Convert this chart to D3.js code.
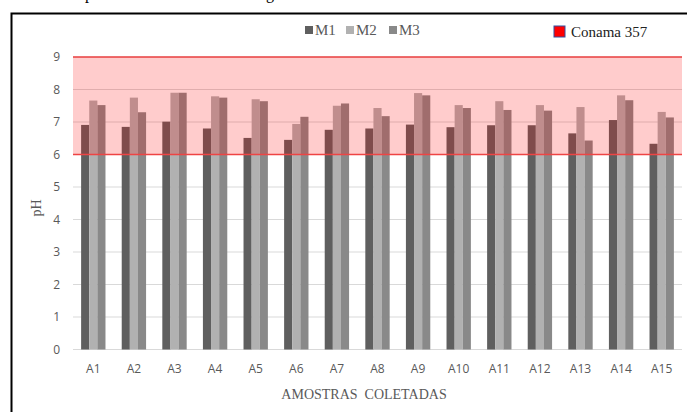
<!DOCTYPE html>
<html>
<head>
<meta charset="utf-8">
<script src="https://cdn.jsdelivr.net/npm/d3@7"></script>
<style>
  body { margin: 0; background: #fff; }
  svg { display: block; }
</style>
</head>
<body>
<svg id="chart"></svg>
<script>
// sample points and the three measurement campaigns
const categories = ["A1","A2","A3","A4","A5","A6","A7","A8","A9","A10","A11","A12","A13","A14","A15"];
const seriesNames = ["M1", "M2", "M3"];
const m1 = [6.91, 6.85, 7.01, 6.80, 6.51, 6.45, 6.76, 6.80, 6.92, 6.84, 6.90, 6.90, 6.65, 7.06, 6.33];
const m2 = [7.66, 7.75, 7.90, 7.79, 7.70, 6.94, 7.50, 7.43, 7.89, 7.52, 7.64, 7.52, 7.46, 7.82, 7.31];
const m3 = [7.52, 7.30, 7.90, 7.75, 7.64, 7.16, 7.57, 7.18, 7.82, 7.43, 7.37, 7.35, 6.43, 7.67, 7.14];
const yTicks = [0, 1, 2, 3, 4, 5, 6, 7, 8, 9];
// Conama 357 range for pH
const limitLow = 6;
const limitHigh = 9;

const W = 687, H = 412;
const plot = { left: 73, right: 682, top: 57, bottom: 349.5 };
const colors = { M1: "#5f5f5f", M2: "#b1b1b1", M3: "#898989" };

const svg = d3.select("#chart").attr("width", W).attr("height", H);

// clipped caption from the page above the figure (only descenders show)
svg.append("text").attr("x", 85).attr("y", -1)
  .attr("font-family", "Liberation Serif").attr("font-size", 16).text("p");
svg.append("text").attr("x", 266).attr("y", -1)
  .attr("font-family", "Liberation Serif").attr("font-size", 16).text("g");

// outer frame
svg.append("rect")
  .attr("x", 11.5).attr("y", 13.5)
  .attr("width", W).attr("height", H)
  .attr("fill", "none").attr("stroke", "#000").attr("stroke-width", 2);

const x = d3.scaleBand().domain(categories).range([plot.left, plot.right]);
const y = d3.scaleLinear().domain([0, 9]).range([plot.bottom, plot.top]);

const groupW = x.bandwidth() * 0.6;
const xs = d3.scaleBand().domain(seriesNames).range([0, groupW]);

// gridlines
svg.append("g").selectAll("line").data(yTicks).join("line")
  .attr("x1", plot.left).attr("x2", plot.right)
  .attr("y1", d => y(d)).attr("y2", d => y(d))
  .attr("stroke", "#d9d9d9").attr("stroke-width", 1);

// y tick labels
svg.append("g").selectAll("text").data(yTicks).join("text")
  .attr("x", 60).attr("y", d => y(d) + 4)
  .attr("text-anchor", "end")
  .attr("font-family", "Open Sans, Liberation Sans, sans-serif")
  .attr("font-size", 12).attr("fill", "#595959")
  .text(d => d);

// bars
const rows = categories.map((c, i) => ({ cat: c, M1: m1[i], M2: m2[i], M3: m3[i] }));
svg.append("g").selectAll("g").data(rows).join("g")
  .attr("transform", d => `translate(${x(d.cat) + (x.bandwidth() - groupW) / 2},0)`)
  .selectAll("rect")
  .data(d => seriesNames.map(s => ({ s, v: d[s] })))
  .join("rect")
  .attr("x", d => xs(d.s)).attr("width", xs.bandwidth())
  .attr("y", d => y(d.v)).attr("height", d => y(0) - y(d.v))
  .attr("fill", d => colors[d.s]);

// Conama band overlaid on the bars
svg.append("rect")
  .attr("x", plot.left).attr("width", plot.right - plot.left)
  .attr("y", y(limitHigh)).attr("height", y(limitLow) - y(limitHigh))
  .attr("fill", "#ff0000").attr("fill-opacity", 0.2);
svg.append("g").selectAll("line").data([limitLow, limitHigh]).join("line")
  .attr("x1", plot.left).attr("x2", plot.right)
  .attr("y1", d => y(d)).attr("y2", d => y(d))
  .attr("stroke", "#ee4444").attr("stroke-width", 1.5);

// x tick labels
svg.append("g").selectAll("text").data(categories).join("text")
  .attr("x", d => x(d) + x.bandwidth() / 2).attr("y", 373)
  .attr("text-anchor", "middle")
  .attr("font-family", "Open Sans, Liberation Sans, sans-serif")
  .attr("font-size", 12).attr("fill", "#595959")
  .text(d => d);

// axis titles
svg.append("text")
  .attr("x", 364).attr("y", 399)
  .attr("text-anchor", "middle")
  .attr("font-family", "Liberation Serif").attr("font-size", 14)
  .attr("fill", "#595959").style("white-space", "pre")
  .text("AMOSTRAS  COLETADAS");

svg.append("text")
  .attr("transform", "translate(41,208) rotate(-90)")
  .attr("text-anchor", "middle")
  .attr("font-family", "Liberation Serif").attr("font-size", 14)
  .attr("fill", "#595959")
  .text("pH");

// series legend
const legend = svg.append("g").attr("transform", "translate(305,30)");
const lx = [0, 41, 84];
seriesNames.forEach((s, i) => {
  legend.append("rect").attr("x", lx[i]).attr("y", -4).attr("width", 8).attr("height", 8)
    .attr("fill", colors[s]);
  legend.append("text").attr("x", lx[i] + 10).attr("y", 5)
    .attr("font-family", "Liberation Serif").attr("font-size", 15)
    .attr("fill", "#595959").text(s);
});

// limit legend
svg.append("rect").attr("x", 554).attr("y", 26).attr("width", 11).attr("height", 11)
  .attr("fill", "#ff0000").attr("stroke", "#3050a0").attr("stroke-width", 1);
svg.append("text").attr("x", 571).attr("y", 37)
  .attr("font-family", "Liberation Serif").attr("font-size", 15)
  .attr("fill", "#222").text("Conama 357");
</script>
</body>
</html>
